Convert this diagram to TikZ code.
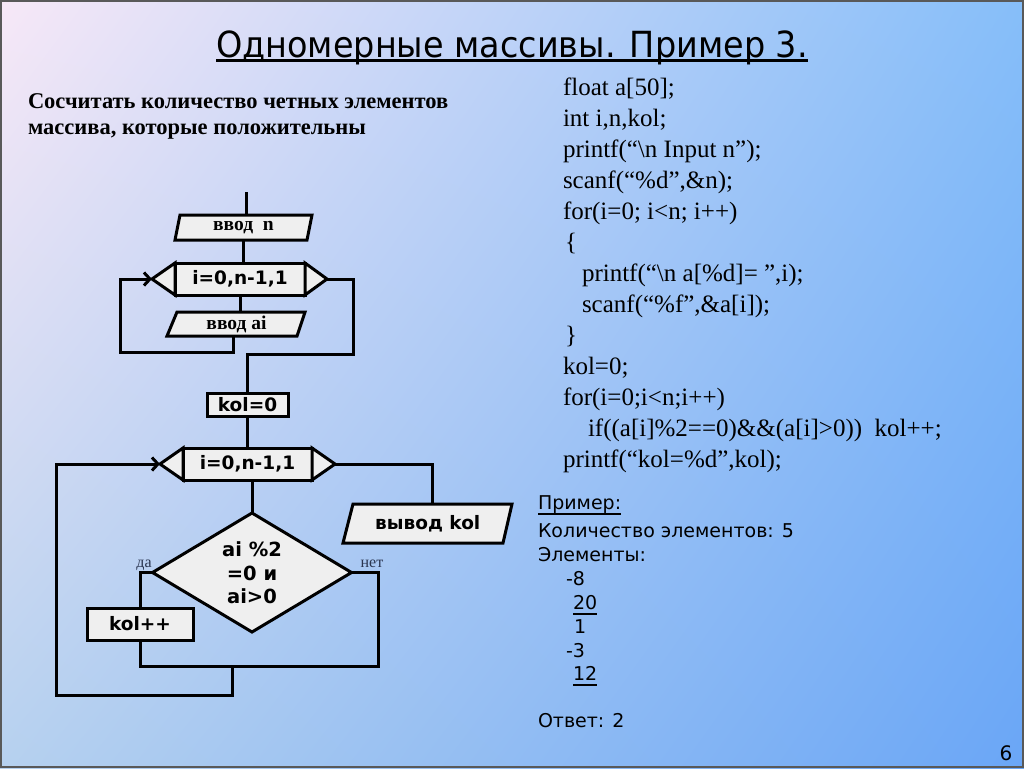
\documentclass[tikz,border=0pt]{standalone}
\usepackage{fontspec}
\setmainfont{Liberation Serif}
\newfontfamily\dv{DejaVu Sans}
\newfontfamily\titlef[FakeStretch=0.93]{DejaVu Sans}
\usetikzlibrary{arrows.meta,shadings}
\definecolor{bgTL}{HTML}{F7E8F7}
\definecolor{bgTR}{HTML}{86BEF9}
\definecolor{bgBL}{HTML}{B6D1EF}
\definecolor{bgBR}{HTML}{6AA6F6}
\definecolor{boxfill}{HTML}{EFEFEF}
\definecolor{lbl}{HTML}{2A3550}
\begin{document}
\begin{tikzpicture}[x=1pt,y=-1pt,
  fc/.style={draw=black, line width=3pt, fill=boxfill, line join=miter},
  ln/.style={draw=black, line width=3pt, line join=miter},
  arr/.style={ln, -{Straight Barb[length=6pt,width=13pt]}},
  txt/.style={inner sep=0pt, outer sep=0pt},
  code/.style={txt, anchor=base west, font=\fontsize{25}{30}\selectfont},
  task/.style={txt, anchor=base west, font=\bfseries\fontsize{22.5}{26}\selectfont},
  ex/.style={txt, anchor=base west, font=\dv\fontsize{19}{22}\selectfont},
  serb/.style={txt, font=\bfseries\fontsize{19.5}{21}\selectfont},
  loopt/.style={txt, font=\dv\bfseries\fontsize{18.5}{22}\selectfont},
  sansb/.style={txt, font=\dv\bfseries\fontsize{18.5}{22}\selectfont},
  yn/.style={txt, text=lbl, font=\fontsize{16}{18}\selectfont},
  uline/.style={line width=1.5pt}
]
\useasboundingbox (0,0) rectangle (1024,768);
\shade[upper left=bgTL, upper right=bgTR, lower left=bgBL, lower right=bgBR] (0,0) rectangle (1024,768);
\draw[line width=2pt, draw=black!65] (1,1) rectangle (1023,767);

% title
\node[txt, anchor=base, font=\titlef\fontsize{36}{42}\selectfont] (title) at (512,57) {Одномерные массивы. Пример 3.};
\draw[line width=2.2pt] ([yshift=-3.5pt]title.base west) -- ([yshift=-3.5pt]title.base east);

% task
\node[task] (task1) at (28,108) {Сосчитать количество четных элементов};
\node[task] (task2) at (28,134) {массива, которые положительны};

% code
\node[code] (c1) at (563,95) {float a[50];};
\node[code] (c2) at (563,126) {int i,n,kol;};
\node[code] (c3) at (563,157) {printf(“\textbackslash n Input n”);};
\node[code] (c4) at (563,188) {scanf(“\%d”,\&n);};
\node[code] (c5) at (563,219) {for(i=0; i<n; i++)};
\node[code] (c6) at (565,250) {\{};
\node[code] (c7) at (582,281) {printf(“\textbackslash n a[\%d]= ”,i);};
\node[code] (c8) at (582,312) {scanf(“\%f”,\&a[i]);};
\node[code] (c9) at (565,343) {\}};
\node[code] (c10) at (563,374) {kol=0;};
\node[code] (c11) at (563,405) {for(i=0;i<n;i++)};
\node[code] (c12) at (588,436) {if((a[i]\%2==0)\&\&(a[i]>0))~ kol++;};
\node[code] (c13) at (563,467) {printf(“kol=\%d”,kol);};

% example
\node[ex] (e1) at (538,509) {Пример:};
\draw[uline] ([yshift=-5pt]e1.base west) -- ([yshift=-5pt]e1.base east);
\node[ex] (e2) at (538,537) {Количество элементов: 5};
\node[ex] (e3) at (538,561) {Элементы:};
\node[ex] (e4) at (566,585) {-8};
\node[ex] (e5) at (573,609) {20};
\draw[uline] ([yshift=-5pt]e5.base west) -- ([yshift=-5pt]e5.base east);
\node[ex] (e6) at (574,633) {1};
\node[ex] (e7) at (566,657) {-3};
\node[ex] (e8) at (573,680) {12};
\draw[uline] ([yshift=-5pt]e8.base west) -- ([yshift=-5pt]e8.base east);
\node[ex] (e9) at (538,727) {Ответ: 2};

% page number
\node[txt, anchor=base, font=\dv\fontsize{20}{22}\selectfont] (pg) at (1006,760) {6};

% ---------- flowchart ----------
\coordinate (start) at (246,192);
% input n
\draw[fc] (180,215) -- (312,215) -- (307,240) -- (175,240) -- cycle;
\node[serb, minimum width=132pt, minimum height=25pt] (inN) at (243.5,227.5) {\raisebox{-1.5pt}{ввод~~n}};
\draw[ln] (start) -- (start |- inN.north);

% loop 1
\node[fc, txt, minimum width=130pt, minimum height=32pt] (L1box) at (240,279) {};
\coordinate (L1l) at (152,279);
\coordinate (L1r) at (327,279);
\draw[fc] (L1box.north west) -- (L1l) -- (L1box.south west) -- cycle;
\draw[fc] (L1box.north east) -- (L1r) -- (L1box.south east) -- cycle;
\node[loopt] (L1) at (L1box.center) {i=0,n-1,1};
\draw[ln] (inN.south) -- (inN.south |- L1box.north);

% input ai
\draw[fc] (177,312) -- (305,312) -- (297,336) -- (167,336) -- cycle;
\node[serb, minimum width=130pt, minimum height=24pt] (inA) at (236.5,324) {\raisebox{-1.5pt}{ввод ai}};
\draw[ln] (L1box.south) -- (L1box.south |- inA.north);
\draw[arr] ([xshift=-3pt]inA.south) |- (120,352) |- (L1l);

% kol=0
\node[fc, sansb, minimum width=81pt, minimum height=23pt] (kol0) at (247.5,404.5) {kol=0};
\draw[ln] (L1r) -| (353,354) -| (kol0.north);

% loop 2
\node[fc, txt, minimum width=129pt, minimum height=32pt] (L2box) at (247.5,464) {};
\coordinate (L2l) at (160,464);
\coordinate (L2r) at (335,464);
\draw[fc] (L2box.north west) -- (L2l) -- (L2box.south west) -- cycle;
\draw[fc] (L2box.north east) -- (L2r) -- (L2box.south east) -- cycle;
\node[loopt] (L2) at (L2box.center) {i=0,n-1,1};
\draw[ln] (kol0.south) -- (L2box.north);

% decision
\node[txt, minimum width=199pt, minimum height=119pt] (D) at (252,572.5) {};
\draw[fc] (D.north) -- (D.east) -- (D.south) -- (D.west) -- cycle;
\node[sansb, align=center, font=\dv\bfseries\fontsize{19.5}{23.5}\selectfont] (Dt) at (252,573) {ai \%2\\=0 и\\ai>0};
\draw[ln] (D.north |- L2box.south) -- (D.north);
\node[yn] (yes) at (144,565) {да};
\node[yn] (no) at (372,564) {нет};

% kol++
\node[fc, sansb, minimum width=106pt, minimum height=32pt] (kpp) at (140,624) {kol++};
\draw[ln] (D.west) -| (kpp.north);
\coordinate (merge) at (232,666);
\draw[ln] (kpp.south) |- (378,666) |- (D.east);
\draw[arr] (merge) |- (56,695) |- (L2l);

% output
\draw[fc] (353,504) -- (512,504) -- (503,543) -- (343,543) -- cycle;
\node[sansb, minimum width=150pt, minimum height=39pt] (out) at (427.75,523.5) {вывод kol};
\draw[ln] (L2r) -| ([xshift=5pt]out.north);
\end{tikzpicture}
\end{document}
